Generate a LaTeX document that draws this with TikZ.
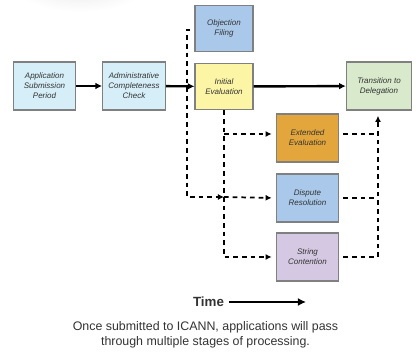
\documentclass[tikz,border=0pt]{standalone}
\usepackage{fontspec}
\setmainfont{Liberation Sans}
\usetikzlibrary{arrows.meta}
\definecolor{paleblue}{HTML}{D6EEF7}
\definecolor{midblue}{HTML}{A9C8EA}
\definecolor{paleyellow}{HTML}{FDF5A6}
\definecolor{palegreen}{HTML}{D8EACB}
\definecolor{amber}{HTML}{E3A63C}
\definecolor{lavender}{HTML}{D4C8E2}
\definecolor{boxgray}{HTML}{808080}
\definecolor{textgray}{HTML}{333333}

\begin{document}
\begin{tikzpicture}[x=0.75pt,y=-0.75pt,
  stagebox/.style={draw=boxgray, line width=0.8pt, minimum width=47pt, minimum height=36pt,
    align=center, inner sep=1pt, text=textgray, font=\fontsize{6}{7.5}\selectfont\itshape},
  mainflow/.style={line width=1.8pt, -{Latex[length=5pt,width=5pt]}},
  dashflow/.style={line width=1.3pt, dash pattern=on 3.5pt off 3pt, -{Latex[length=4.5pt,width=4.5pt]}}]
  \useasboundingbox (0,0) rectangle (419,360);
  \shade[inner color=black!7, outer color=white] (80,-10) ellipse (62 and 22);

  % stages
  \node[stagebox, fill=paleblue] (app) at (44.5,86) {Application\\Submission\\Period};
  \node[stagebox, fill=paleblue] (admin) at (134,86) {Administrative\\Completeness\\Check};
  \node[stagebox, fill=midblue, minimum width=43.5pt, minimum height=35pt] (objection) at (224,28.5) {Objection\\Filing};
  \node[stagebox, fill=paleyellow, minimum width=43.5pt, minimum height=35pt] (initial) at (224,86.5) {Initial\\Evaluation};
  \node[stagebox, fill=palegreen, minimum width=49pt] (transition) at (379,86) {Transition to\\Delegation};
  \node[stagebox, fill=amber] (extended) at (307.5,138) {Extended\\Evaluation};
  \node[stagebox, fill=midblue] (dispute) at (307.5,198) {Dispute\\Resolution};
  \node[stagebox, fill=lavender] (string) at (307.5,257) {String\\Contention};

  % main path
  \draw[mainflow] (app) -- (admin);
  \draw[mainflow] (admin) -- (initial);
  \draw[mainflow] (initial) -- (transition);

  % optional branches
  \coordinate (ltop) at (187,30);
  \coordinate (lbot) at (187,197);
  \coordinate (extin) at (224,134);
  \coordinate (extout) at (378,134);
  \draw[dashflow] ([xshift=-3pt]objection.west |- ltop) -- (ltop) -- (lbot) -- (lbot -| initial.south);
  \draw[dashflow, shorten >=3pt] (initial.south) |- (string.west);
  \draw[dashflow, shorten >=3pt] (extin) -- (extin -| extended.west);
  \draw[dashflow, shorten >=3pt] (lbot -| initial.south) -- (dispute.west);
  \draw[dashflow, -] ([xshift=3pt]extended.east |- extout) -- (extout);
  \draw[dashflow, -] ([xshift=3pt]dispute.east) -- (dispute.east -| extout);
  \draw[dashflow] ([xshift=3pt]string.east) -| ([yshift=-4pt]transition.south -| extout);

  % time axis and caption
  \node[font=\bfseries\fontsize{10}{12}\selectfont, text=textgray] (time) at (208.5,302) {Time};
  \coordinate (timeend) at (306,302);
  \draw[line width=2.2pt, -{Latex[length=6pt,width=6pt]}] (time.east) -- (timeend);
  \node[align=center, text=textgray, font=\fontsize{9.3}{11}\selectfont] (caption) at (205.5,335)
    {Once submitted to ICANN, applications will pass\\through multiple stages of processing.};
\end{tikzpicture}
\end{document}
